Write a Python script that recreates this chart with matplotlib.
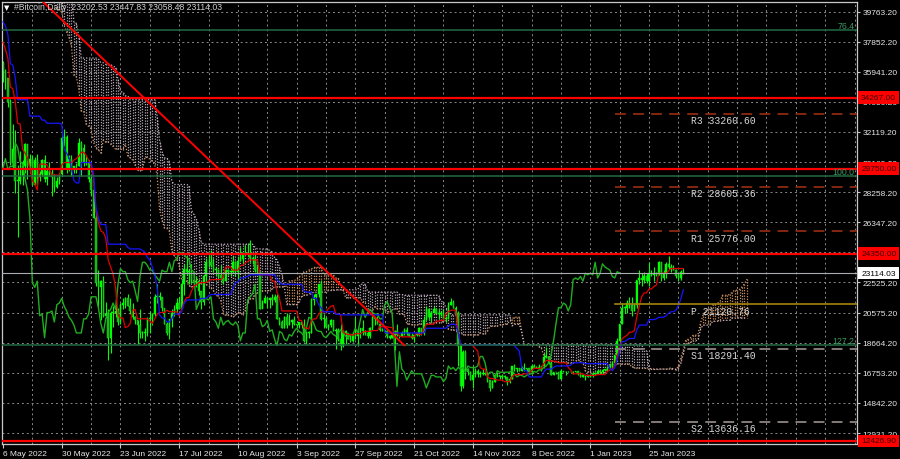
"""
#Bitcoin daily chart (MT4 style): candles, Ichimoku, pivots, levels.
"""

import numpy as np
import matplotlib.pyplot as plt
from matplotlib.collections import LineCollection

plt.rcParams['font.family'] = ['Liberation Sans', 'DejaVu Sans']

# --- data (thousands USD) -------------------------------------------------
# pre-history 17 Feb - 5 May 2022, only feeds the Ichimoku cloud
pre_high = [
    44.2, 40.9, 40.4, 40.1, 39.4, 38.4, 39.2, 38.9, 39.7, 40.2, 39.8, 43.8,
    44.9, 45.4, 44.1, 42.5, 39.6, 39.6, 39.4, 39.3, 42.5, 42.0, 40.2, 39.4, 39.3, 39.9, 39.9, 41.5,
    41.5, 42.3, 42.4, 42.3, 41.7, 43.3, 43.0, 44.2, 45.0, 44.8, 46.9, 48.2, 48.1, 47.6, 47.6,
    46.6, 47.2, 47.4, 46.9, 47.1, 45.5, 43.8, 43.9, 42.8, 43.4, 42.4, 40.6, 41.5, 41.5, 40.7,
    40.6, 40.6, 41.0, 41.7, 42.1, 42.9, 40.8, 39.9, 39.8, 40.6, 40.8, 39.4, 40.3, 39.9, 38.8,
    38.6, 39.1, 38.6, 39.9, 39.8,
]
pre_low = [
    40.1, 39.5, 39.7, 38.0, 36.8, 36.4, 37.1, 34.3, 38.0, 38.6, 37.0, 37.5,
    42.8, 43.4, 41.8, 38.6, 38.7, 38.1, 37.2, 37.9, 38.7, 38.6, 38.3, 38.7, 37.6, 37.6, 38.2, 39.0,
    40.5, 40.2, 41.5, 40.9, 40.5, 40.9, 41.9, 42.6, 43.7, 44.1, 44.4, 46.7, 46.9, 46.6, 45.3,
    44.3, 45.7, 45.6, 45.1, 45.4, 43.1, 42.8, 42.2, 42.1, 42.0, 39.3, 39.3, 39.6, 39.6, 39.8,
    40.0, 39.6, 38.6, 40.6, 40.9, 39.8, 39.2, 39.3, 39.2, 38.3, 37.9, 37.9, 38.9, 38.2, 37.6,
    37.4, 38.1, 37.5, 37.7, 35.9,
]

# visible bars 6 May 2022 - 8 Feb 2023, one row per month
high = [
    36.6, 36.1, 35.5, 34.2, 32.6, 32.2, 30.0, 30.9, 30.3, 31.4, 31.3, 30.7, 30.6, 30.5, 30.7, 29.6,
    30.4, 30.6, 29.8, 30.2, 29.8, 29.4, 29.2, 29.5, 32.0, 32.3,
    31.9, 30.6, 30.6, 29.9, 30.1, 31.7, 31.5, 31.3, 30.6, 30.3, 29.4, 28.5, 26.8, 23.3, 22.7, 22.9,
    21.3, 20.8, 20.7, 21.0, 21.7, 20.9, 21.2, 21.5, 21.6, 21.8, 21.5, 21.2, 20.4, 20.1,
    20.8, 19.4, 19.6, 20.3, 20.7, 20.6, 21.8, 22.4, 21.9, 21.6, 20.9, 20.0, 20.2, 20.8, 21.1, 21.5,
    21.6, 22.7, 23.7, 24.2, 23.4, 23.7, 23.0, 22.9, 22.6, 22.0, 23.0, 24.1, 24.4, 24.6, 24.1,
    23.5, 23.4, 23.6, 23.2, 23.4, 23.4, 23.3, 24.2, 23.9, 24.2, 24.8, 24.4, 24.9, 25.0, 25.2, 24.2,
    24.4, 23.6, 23.2, 21.4, 21.7, 21.6, 21.6, 21.8, 21.8, 21.8, 20.3, 20.1, 20.4, 20.6, 20.5,
    20.2, 20.4, 19.9, 20.0, 20.0, 20.2, 19.4, 19.4, 21.5, 21.8, 21.8, 22.4, 22.7, 20.5, 20.3, 19.9,
    20.2, 20.1, 19.6, 19.6, 19.9, 19.5, 19.5, 19.3, 19.2, 19.3, 20.3, 19.7, 19.6, 20.1,
    19.5, 19.4, 19.7, 20.4, 20.3, 20.4, 20.0, 19.6, 19.5, 19.5, 19.2, 19.2, 19.5, 19.9, 19.2, 19.4,
    19.6, 19.7, 19.3, 19.3, 19.2, 19.3, 19.7, 19.6, 20.4, 21.0, 20.9, 20.7, 21.0, 20.9, 20.8,
    20.7, 20.8, 20.4, 21.3, 21.5, 21.4, 21.0, 20.7, 18.6, 18.2, 18.2, 17.1, 16.9, 17.2, 17.1, 17.0,
    16.9, 17.0, 16.8, 16.8, 16.3, 16.3, 16.7, 16.8, 16.6, 16.7, 16.6, 16.5, 16.5, 17.2,
    17.3, 17.1, 17.1, 17.2, 17.4, 17.1, 17.1, 17.3, 17.3, 17.2, 17.3, 17.2, 18.0, 18.4, 17.8, 17.5,
    16.8, 16.8, 16.8, 17.0, 16.9, 16.9, 16.9, 16.9, 16.9, 16.9, 16.9, 16.8, 16.6, 16.6, 16.6,
    16.6, 16.8, 16.8, 17.0, 16.9, 17.0, 17.0, 17.2, 17.4, 17.5, 17.9, 19.0, 19.9, 21.2, 21.0, 21.4,
    21.6, 21.6, 21.2, 22.7, 23.3, 23.1, 23.2, 23.1, 23.8, 23.3, 23.5, 23.2, 23.9, 23.8, 23.3,
    23.8, 24.2, 23.7, 23.6, 23.4, 23.1, 23.3, 23.44783,
]
low = [
    35.3, 34.8, 33.7, 30.0, 29.8, 28.2, 25.4, 28.8, 28.7, 29.5, 29.1, 29.5, 28.7, 28.7, 28.8, 29.0,
    29.3, 28.9, 28.7, 29.3, 28.0, 28.3, 28.5, 28.8, 29.3, 31.2,
    29.5, 29.6, 29.3, 29.5, 29.5, 29.9, 29.3, 29.9, 30.0, 28.9, 28.1, 26.6, 22.3, 20.9, 20.1, 20.3,
    20.3, 17.6, 18.0, 19.7, 20.3, 19.8, 19.9, 20.8, 20.9, 21.0, 20.5, 20.2, 19.9, 18.6,
    19.0, 19.0, 18.8, 19.1, 19.3, 19.8, 20.3, 21.2, 21.4, 20.7, 19.9, 19.2, 18.9, 19.7, 20.4, 20.5,
    20.8, 20.8, 21.7, 23.0, 22.4, 22.5, 22.3, 22.2, 21.7, 20.8, 21.1, 22.6, 23.5, 23.5, 23.2,
    22.9, 22.7, 22.7, 22.4, 22.6, 23.0, 22.9, 23.2, 22.9, 22.7, 23.9, 23.6, 24.3, 24.2, 23.8, 23.7,
    23.2, 23.1, 20.8, 20.9, 21.2, 20.9, 20.9, 21.1, 21.3, 20.2, 19.8, 19.6, 19.6, 19.6, 19.8,
    19.6, 19.8, 19.7, 19.6, 19.6, 18.7, 18.6, 19.0, 19.3, 21.1, 21.4, 21.6, 20.1, 19.6, 19.6, 19.5,
    19.7, 19.4, 18.3, 18.8, 18.2, 18.4, 18.6, 18.9, 18.7, 18.7, 18.9, 18.5, 19.0, 19.2,
    19.2, 19.0, 19.0, 19.5, 19.8, 19.9, 19.4, 19.4, 19.3, 19.0, 18.9, 19.0, 18.2, 19.1, 19.0, 19.1,
    19.2, 19.2, 19.1, 18.9, 18.7, 19.1, 19.1, 19.2, 19.2, 20.1, 20.2, 20.0, 20.6, 20.5, 20.2,
    20.4, 20.1, 20.0, 20.2, 21.1, 20.9, 20.4, 17.2, 15.6, 15.8, 16.4, 16.6, 16.3, 15.8, 16.5, 16.5,
    16.5, 16.6, 16.6, 16.2, 15.6, 15.8, 16.2, 16.5, 16.4, 16.4, 16.4, 16.0, 16.1, 16.4,
    16.9, 16.8, 16.9, 16.9, 16.9, 16.9, 16.7, 16.7, 17.1, 17.1, 17.1, 16.9, 17.1, 17.7, 17.3, 16.6,
    16.6, 16.7, 16.4, 16.4, 16.8, 16.6, 16.8, 16.8, 16.7, 16.8, 16.6, 16.5, 16.5, 16.3, 16.5,
    16.5, 16.5, 16.6, 16.7, 16.7, 16.7, 16.9, 16.9, 17.1, 17.1, 17.3, 17.9, 18.7, 19.9, 20.6, 20.6,
    20.9, 20.4, 20.7, 20.9, 22.4, 22.3, 22.5, 22.5, 22.3, 22.9, 22.6, 22.9, 23.0, 22.6, 22.7,
    22.8, 23.4, 23.2, 23.3, 22.8, 22.6, 22.7, 23.05848,
]
close = [
    36.0, 35.5, 34.0, 30.1, 31.0, 29.0, 29.0, 29.3, 29.9, 31.3, 29.9, 30.4, 28.7, 30.3, 29.2, 29.4,
    30.3, 29.1, 29.6, 29.5, 29.2, 28.6, 29.0, 29.4, 31.7, 31.8,
    29.8, 30.4, 29.7, 29.9, 29.9, 31.4, 31.1, 30.2, 30.1, 29.1, 28.4, 26.6, 22.5, 22.2, 22.6, 20.4,
    20.5, 19.0, 20.6, 20.6, 20.7, 20.0, 21.1, 21.2, 21.5, 21.0, 20.7, 20.3, 20.1, 19.8,
    19.3, 19.3, 19.3, 20.2, 20.2, 20.5, 21.6, 21.6, 21.6, 20.9, 19.9, 19.3, 20.2, 20.6, 20.8, 21.2,
    20.8, 22.4, 23.4, 23.2, 23.2, 22.7, 22.5, 22.6, 22.0, 21.3, 22.9, 23.8, 23.8, 23.6, 23.3,
    23.3, 23.0, 22.8, 22.6, 23.3, 23.2, 23.2, 23.8, 23.2, 23.9, 24.0, 24.4, 24.4, 24.3, 24.1, 24.0,
    23.3, 23.2, 20.8, 21.2, 21.5, 21.4, 21.5, 21.4, 21.6, 20.2, 20.0, 19.6, 20.3, 19.8, 20.0,
    20.1, 19.9, 19.8, 20.0, 19.8, 18.8, 19.3, 19.3, 21.4, 21.6, 21.8, 22.4, 20.2, 20.2, 19.7, 19.8,
    20.1, 19.4, 19.5, 18.9, 18.5, 19.4, 19.3, 18.9, 18.8, 19.2, 19.1, 19.4, 19.6, 19.4,
    19.3, 19.1, 19.6, 20.3, 20.2, 19.9, 19.5, 19.4, 19.4, 19.1, 19.0, 19.2, 19.4, 19.2, 19.1, 19.3,
    19.5, 19.3, 19.1, 19.0, 19.2, 19.2, 19.6, 19.3, 20.1, 20.8, 20.3, 20.6, 20.8, 20.6, 20.5,
    20.5, 20.2, 20.2, 21.1, 21.3, 20.9, 20.6, 18.5, 15.9, 18.1, 17.0, 16.8, 16.3, 16.6, 16.9, 16.7,
    16.7, 16.7, 16.7, 16.3, 15.8, 16.2, 16.6, 16.6, 16.5, 16.5, 16.5, 16.2, 16.4, 17.2,
    17.0, 17.1, 16.9, 17.1, 17.0, 17.1, 16.8, 17.2, 17.1, 17.1, 17.1, 17.2, 17.8, 17.8, 17.4, 16.6,
    16.8, 16.8, 16.4, 16.9, 16.8, 16.8, 16.8, 16.8, 16.8, 16.9, 16.7, 16.5, 16.6, 16.6, 16.5,
    16.6, 16.7, 16.7, 16.85, 16.8, 16.95, 16.95, 17.1, 17.2, 17.4, 17.9, 18.8, 19.9, 20.9, 20.9, 21.2,
    21.1, 20.7, 21.1, 22.7, 22.8, 22.7, 22.9, 22.6, 23.1, 23.0, 23.1, 23.0, 23.8, 22.8, 23.1,
    23.7, 23.5, 23.4, 23.3, 22.9, 22.8, 23.20253, 23.11403,
]
first_open = 36.5

date_labels = ['6 May 2022', '30 May 2022', '23 Jun 2022', '17 Jul 2022', '10 Aug 2022',
               '3 Sep 2022', '27 Sep 2022', '21 Oct 2022', '14 Nov 2022', '8 Dec 2022',
               '1 Jan 2023', '25 Jan 2023']
price_ticks = [39763.20, 37852.20, 35941.20, 34030.20, 32119.20, 30169.20, 28258.20,
               26347.20, 24436.20, 22525.20, 20575.20, 18664.20, 16753.20, 14842.20, 12931.20]

red_levels = [34267.00, 29750.00, 24350.00, 12426.90]
fibo_levels = [38585.0, 29272.0, 18520.0]
fibo_names = ['76.4', '100.0', '127.2']
pivot_names = ['R3', 'R2', 'R1', 'P', 'S1', 'S2']
pivot_values = [33260.60, 28605.36, 25776.00, 21120.76, 18291.40, 13636.16]
pivot_start = 250
trend_bars = [0, 164]
trend_prices = [42795, 18514]

TENKAN, KIJUN, SENKOU = 9, 26, 52

# --- prepare ---------------------------------------------------------------
H = np.array(pre_high + high) * 1000
L = np.array(pre_low + low) * 1000
C = np.array(close) * 1000
O = np.concatenate([[first_open * 1000], C[:-1]])
n_pre = len(pre_high)
n = len(close)
x = np.arange(n)


def midline(period, g):
    return (H[g - period + 1:g + 1].max() + L[g - period + 1:g + 1].min()) / 2


tenkan = np.array([midline(TENKAN, n_pre + i) for i in range(n)])
kijun = np.array([midline(KIJUN, n_pre + i) for i in range(n)])
xc = np.arange(n + KIJUN)
span_a = np.array([(midline(TENKAN, n_pre + i - KIJUN) + midline(KIJUN, n_pre + i - KIJUN)) / 2
                   for i in xc])
span_b = np.array([midline(SENKOU, n_pre + i - KIJUN) for i in xc])
chikou = C[KIJUN:]

# --- figure ----------------------------------------------------------------
fig = plt.figure(figsize=(9, 4.6), dpi=100, facecolor='black')
ax = fig.add_axes([2 / 900, 15 / 460, 855 / 900, 442 / 460], facecolor='black')
ax.set_xlim(-0.4, 349)
ax.set_ylim(12231, 40368)

grid_kw = dict(color='#8a8a8a', lw=0.7, ls=(0, (2, 3)), zorder=0)
for v in price_ticks:
    ax.axhline(v, **grid_kw)
for gx in np.arange(12, 349, 12):
    ax.axvline(gx, **grid_kw)

# Ichimoku cloud, dotted hatching
up = span_a >= span_b
segs = [[(i, a), (i, b)] for i, a, b in zip(xc, span_a, span_b)]
cols = ['#c98f5e' if u else '#b4a6b4' for u in up]
ax.add_collection(LineCollection(segs, colors=cols, linewidths=0.9,
                                 linestyles=(0, (1, 1.2)), zorder=1))
ax.plot(xc, span_a, color='#d99a66', lw=0.9, ls=(0, (1, 1.5)), zorder=1)
ax.plot(xc, span_b, color='#c8b4c8', lw=0.9, ls=(0, (1, 1.5)), zorder=1)

# candles
ax.vlines(x, L[n_pre:], H[n_pre:], color='#00ff00', lw=0.8, zorder=2)
bull = C >= O
body_lo = np.minimum(O, C)
body_h = np.maximum(np.abs(C - O), 40)
ax.bar(x, body_h, bottom=body_lo, width=0.6,
       color=np.where(bull, '#00ff00', '#22a822'), edgecolor='#00ff00', lw=0.3, zorder=2)

# Ichimoku lines
ax.plot(x[:len(chikou)], chikou, color='#1fae1f', lw=1.0, zorder=3)
ax.plot(x, tenkan, color='#e00000', lw=0.9, zorder=3)
ax.plot(x, kijun, color='#1515ff', lw=0.9, zorder=3)

# fibo levels
for v, name in zip(fibo_levels, fibo_names):
    ax.axhline(v, color='#236b42', lw=1.1, zorder=4)
    ax.text(0.997, v, name, transform=ax.get_yaxis_transform(), ha='right', va='bottom',
            fontsize=6.3, color='#3a9a62', zorder=6)

# bid line
ax.axhline(C[-1], color='#a9acb0', lw=0.8, zorder=4)

# pivots
for name, v in zip(pivot_names, pivot_values):
    if name.startswith('R'):
        ax.plot([pivot_start, 349], [v, v], color='#8e2a12', lw=1.3, ls=(0, (6, 4)), zorder=4)
    elif name.startswith('S'):
        ax.plot([pivot_start, 349], [v, v], color='#8f8683', lw=1.3, ls=(0, (6, 4)), zorder=4)
    else:
        ax.plot([pivot_start, 349], [v, v], color='#a4840e', lw=1.2, zorder=4)
    ax.annotate(f'{name} {v:.2f}', xy=(281, v), xytext=(0, -1), textcoords='offset points',
                ha='left', va='top', fontsize=7, color='#d6d6d6',
                family=['Liberation Mono', 'DejaVu Sans Mono'], zorder=6)

# horizontal support/resistance and trend line
for v in red_levels:
    ax.axhline(v, color='#ff0000', lw=1.6, zorder=5)
ax.plot(trend_bars, trend_prices, color='#ff0000', lw=1.4, zorder=5)

# axes styling
for s in ax.spines.values():
    s.set_color('#c8c8c8')
    s.set_linewidth(0.9)
ax.yaxis.tick_right()
ax.set_yticks(price_ticks)
ax.set_yticklabels([f'{v:.2f}' for v in price_ticks])
ax.tick_params(axis='y', colors='#c8c8c8', labelcolor='#e6e6e6', labelsize=6,
               length=2, pad=2)
ax.set_xticks(np.arange(len(date_labels)) * 24)
ax.set_xticklabels(date_labels, ha='left')
ax.tick_params(axis='x', colors='#c8c8c8', labelcolor='#e6e6e6', labelsize=6,
               length=3, pad=1.5)

# price tags on the right axis
tag_kw = dict(xycoords=('axes fraction', 'data'), xytext=(3, 0), textcoords='offset points',
              ha='left', va='center', fontsize=6, annotation_clip=False, zorder=10)
for v in red_levels:
    ax.annotate(f'{v:.2f}', xy=(1, v), color='#3a0000',
                bbox=dict(boxstyle='square,pad=0.35', fc='#ff0000', ec='none'), **tag_kw)
ax.annotate(f'{C[-1]:.2f}', xy=(1, C[-1]), color='black',
            bbox=dict(boxstyle='square,pad=0.35', fc='white', ec='none'), **tag_kw)

# header
fig.text(4 / 900, 1 - 8 / 460, '\u25bc', fontsize=5, color='white', va='center',
         family='DejaVu Sans')
fig.text(14 / 900, 1 - 8 / 460,
         f'#Bitcoin,Daily  {C[-2]:.2f} {H[-1]:.2f} {L[-1]:.2f} {C[-1]:.2f}',
         fontsize=6.2, color='#d0d0d0', va='center')

fig.savefig('out.png', dpi=100, facecolor='black')
